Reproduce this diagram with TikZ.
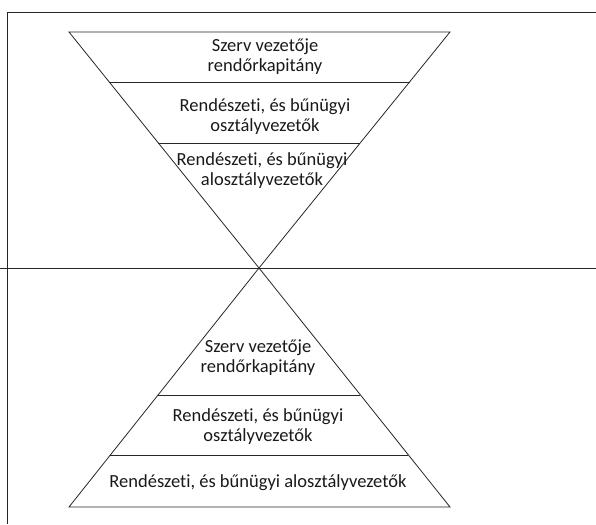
\documentclass[tikz,border=0pt]{standalone}
\usepackage{fontspec}
\setmainfont{Carlito}[Ligatures=NoCommon]
\usetikzlibrary{calc}
\tikzset{
  tier/.style={align=center, inner sep=0pt, text=black!90,
    font=\fontsize{18.5}{20}\selectfont},
  rule/.style={line width=0.8pt, black!85}
}
\begin{document}
\begin{tikzpicture}[x=1pt,y=-1pt]
  % Parameters
  \def\topY{32} % y of the upper base
  \def\midY{268} % y of the common apex
  \def\botY{507} % y of the lower base
  \useasboundingbox (0,0) rectangle (596,524);

  % Frame
  \draw[rule] (596,12) -- (7,12) -- (7,524);
  \draw[rule] (0,\midY) -- (596,\midY);

  % Inverted triangle
  \coordinate (apex) at (259,\midY);
  \coordinate (ul) at (69,\topY);
  \coordinate (ur) at (450,\topY);
  \draw[rule] (ul) -- (ur) -- (apex) -- cycle;
  \draw[rule] ($(ul)!0.212!(apex)$) -- ($(ur)!0.212!(apex)$);
  \draw[rule] ($(ul)!0.47!(apex)$) -- ($(ur)!0.47!(apex)$);

  \node[tier] (uA) at (265,57) {Szerv vezetője\\rendőrkapitány};
  \node[tier] (uB) at (265,117) {Rendészeti, és bűnügyi\\osztályvezetők};
  \node[tier] (uC) at (262,171) {Rendészeti, és bűnügyi\\alosztályvezetők};

  % Pyramid
  \coordinate (ll) at (69,\botY);
  \coordinate (lr) at (450,\botY);
  \draw[rule] (apex) -- (ll) -- (lr) -- cycle;
  \draw[rule] ($(apex)!0.531!(ll)$) -- ($(apex)!0.531!(lr)$);
  \draw[rule] ($(apex)!0.782!(ll)$) -- ($(apex)!0.782!(lr)$);

  \node[tier] (lA) at (258,358) {Szerv vezetője\\rendőrkapitány};
  \node[tier] (lB) at (258,427) {Rendészeti, és bűnügyi\\osztályvezetők};
  \node[tier] (lC) at (258,483) {Rendészeti, és bűnügyi alosztályvezetők};
\end{tikzpicture}
\end{document}
